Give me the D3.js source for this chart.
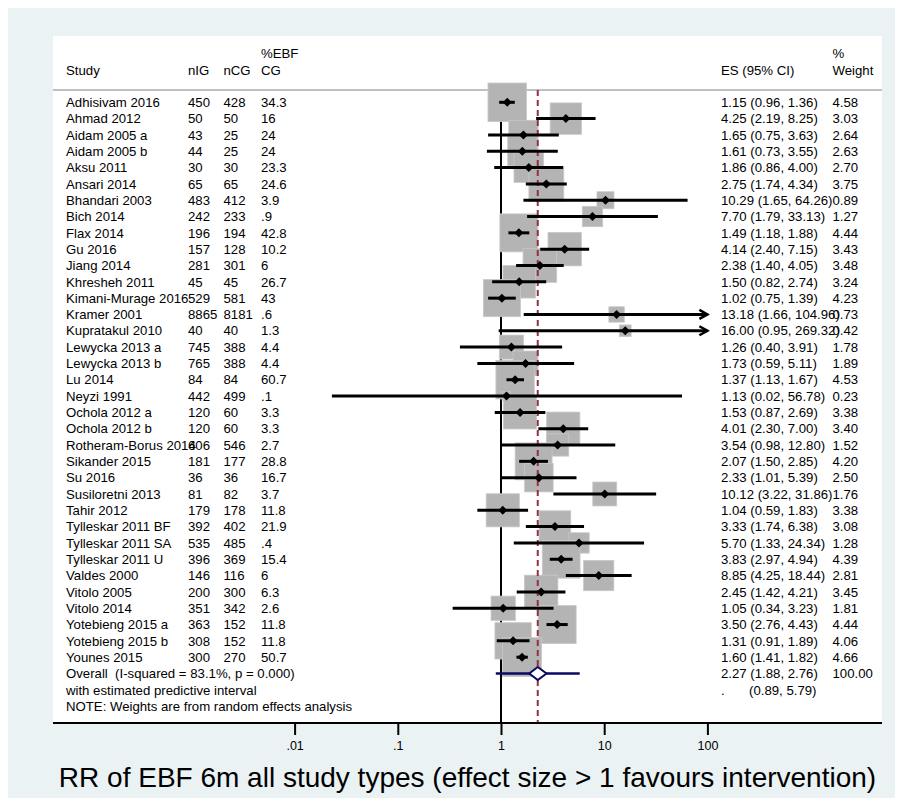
<!DOCTYPE html>
<html>
<head>
<meta charset="utf-8">
<script src="https://cdn.jsdelivr.net/npm/d3@7"></script>
<style>
  html, body { margin: 0; padding: 0; background: #ffffff; }
  svg { display: block; }
  text { font-family: "Liberation Sans", Arial, Helvetica, sans-serif; white-space: pre; }
</style>
</head>
<body>
<svg id="chart" width="903" height="802"></svg>
<script>
// ---------------- data ----------------
const studies = ["Adhisivam 2016","Ahmad 2012","Aidam 2005 a","Aidam 2005 b","Aksu 2011","Ansari 2014","Bhandari 2003","Bich 2014","Flax 2014","Gu 2016","Jiang 2014","Khresheh 2011","Kimani-Murage 2016","Kramer 2001","Kupratakul 2010","Lewycka 2013 a","Lewycka 2013 b","Lu 2014","Neyzi 1991","Ochola 2012 a","Ochola 2012 b","Rotheram-Borus 2014","Sikander 2015","Su 2016","Susiloretni 2013","Tahir 2012","Tylleskar 2011 BF","Tylleskar 2011 SA","Tylleskar 2011 U","Valdes 2000","Vitolo 2005","Vitolo 2014","Yotebieng 2015 a","Yotebieng 2015 b","Younes 2015"];
const nIG = ["450","50","43","44","30","65","483","242","196","157","281","45","529","8865","40","745","765","84","442","120","120","606","181","36","81","179","392","535","396","146","200","351","363","308","300"];
const nCG = ["428","50","25","25","30","65","412","233","194","128","301","45","581","8181","40","388","388","84","499","60","60","546","177","36","82","178","402","485","369","116","300","342","152","152","270"];
const ebfCG = ["34.3","16","24","24","23.3","24.6","3.9",".9","42.8","10.2","6","26.7","43",".6","1.3","4.4","4.4","60.7",".1","3.3","3.3","2.7","28.8","16.7","3.7","11.8","21.9",".4","15.4","6","6.3","2.6","11.8","11.8","50.7"];
const es  = [1.15,4.25,1.65,1.61,1.86,2.75,10.29,7.70,1.49,4.14,2.38,1.50,1.02,13.18,16.00,1.26,1.73,1.37,1.13,1.53,4.01,3.54,2.07,2.33,10.12,1.04,3.33,5.70,3.83,8.85,2.45,1.05,3.50,1.31,1.60];
const ciLow = [0.96,2.19,0.75,0.73,0.86,1.74,1.65,1.79,1.18,2.40,1.40,0.82,0.75,1.66,0.95,0.40,0.59,1.13,0.023,0.87,2.30,0.98,1.50,1.01,3.22,0.59,1.74,1.33,2.97,4.25,1.42,0.34,2.76,0.91,1.41];
const ciHigh = [1.36,8.25,3.63,3.55,4.00,4.34,64.26,33.13,1.88,7.15,4.05,2.74,1.39,104.96,269.32,3.91,5.11,1.67,56.78,2.69,7.00,12.80,2.85,5.39,31.86,1.83,6.38,24.34,4.94,18.44,4.21,3.23,4.43,1.89,1.82];
const weight = [4.58,3.03,2.64,2.63,2.70,3.75,0.89,1.27,4.44,3.43,3.48,3.24,4.23,0.73,0.42,1.78,1.89,4.53,0.23,3.38,3.40,1.52,4.20,2.50,1.76,3.38,3.08,1.28,4.39,2.81,3.45,1.81,4.44,4.06,4.66];
const overall = {es: 2.27, lo: 1.88, hi: 2.76, weight: "100.00", piLo: 0.89, piHi: 5.79};
const overallLabel = "Overall  (I-squared = 83.1%, p = 0.000)";
const predLabel = "with estimated predictive interval";
const noteLabel = "NOTE: Weights are from random effects analysis";
const tickValues = [0.01, 0.1, 1, 10, 100];
const tickLabels = [".01", ".1", "1", "10", "100"];
const xTitle = "RR of EBF 6m all study types (effect size > 1 favours intervention)";

// ---------------- layout ----------------
const svg = d3.select("#chart");
const panel = {x0: 53, x1: 882, y0: 36, y1: 723};

svg.append("rect").attr("x", 8).attr("y", 8).attr("width", 887).attr("height", 790).attr("fill", "#eaf2f3");
svg.append("rect").attr("x", panel.x0).attr("y", panel.y0).attr("width", panel.x1 - panel.x0).attr("height", panel.y1 - panel.y0).attr("fill", "#ffffff");

const x = d3.scaleLog().domain([0.01, 100]).range([294.6, 707.4]);
const nRows = 38;
const y = d3.scaleLinear().domain([0, nRows - 1]).range([102.3, 102.3 + 16.32 * (nRows - 1)]);
const side = d3.scaleSqrt().domain([0, 4.66]).range([0, 38.9]);

const fs = 13.2;
const col = {study: 66, nIG: 188, nCG: 223.5, ebf: 261, es: 721, w: 832.5};

// header
const hdr = svg.append("g").attr("font-size", fs).attr("fill", "#000");
hdr.append("text").attr("x", col.study).attr("y", 74.5).text("Study");
hdr.append("text").attr("x", col.nIG).attr("y", 74.5).text("nIG");
hdr.append("text").attr("x", col.nCG).attr("y", 74.5).text("nCG");
hdr.append("text").attr("x", col.ebf).attr("y", 58).text("%EBF");
hdr.append("text").attr("x", col.ebf).attr("y", 74.5).text("CG");
hdr.append("text").attr("x", col.es).attr("y", 74.5).text("ES (95% CI)");
hdr.append("text").attr("x", col.w).attr("y", 58).text("%");
hdr.append("text").attr("x", col.w).attr("y", 74.5).text("Weight");

// header rule
svg.append("line").attr("x1", panel.x0).attr("x2", panel.x1).attr("y1", 90).attr("y2", 90)
  .attr("stroke", "#c0c0c0").attr("stroke-width", 2);

// null line
svg.append("line").attr("x1", x(1)).attr("x2", x(1)).attr("y1", 90).attr("y2", panel.y1)
  .attr("stroke", "#000").attr("stroke-width", 2);

const idx = d3.range(studies.length);

// boxes
svg.append("g").selectAll("rect").data(idx).join("rect")
  .attr("x", i => x(es[i]) - side(weight[i]) / 2)
  .attr("y", i => y(i) - side(weight[i]) / 2)
  .attr("width", i => side(weight[i]))
  .attr("height", i => side(weight[i]))
  .attr("fill", "#b4b4b4")
  .attr("stroke", "#c8c8c8").attr("stroke-width", 0.8);

// overall dashed line
svg.append("line").attr("x1", x(overall.es)).attr("x2", x(overall.es)).attr("y1", 90).attr("y2", panel.y1)
  .attr("stroke", "#943040").attr("stroke-width", 2).attr("stroke-dasharray", "6,4");

// CI lines
const xMax = 100;
svg.append("g").selectAll("line").data(idx).join("line")
  .attr("x1", i => x(ciLow[i]))
  .attr("x2", i => x(Math.min(ciHigh[i], xMax)))
  .attr("y1", i => y(i)).attr("y2", i => y(i))
  .attr("stroke", "#000").attr("stroke-width", 3);

// arrows for clipped CIs
svg.append("g").selectAll("path").data(idx.filter(i => ciHigh[i] > xMax)).join("path")
  .attr("d", i => { const ax = x(xMax), ay = y(i); return `M${ax - 8},${ay - 4.5} L${ax},${ay} L${ax - 8},${ay + 4.5}`; })
  .attr("fill", "none").attr("stroke", "#000").attr("stroke-width", 2.5);

// point diamonds
svg.append("g").selectAll("path").data(idx).join("path")
  .attr("d", i => { const cx = x(es[i]), cy = y(i), r = 4.5; return `M${cx - r},${cy} L${cx},${cy - r} L${cx + r},${cy} L${cx},${cy + r} Z`; })
  .attr("fill", "#000");

// overall
const oy = y(35);
svg.append("line").attr("x1", x(overall.piLo)).attr("x2", x(overall.piHi)).attr("y1", oy).attr("y2", oy)
  .attr("stroke", "#0a0a64").attr("stroke-width", 2.5);
svg.append("path")
  .attr("d", `M${x(overall.lo)},${oy} L${x(overall.es)},${oy - 6.5} L${x(overall.hi)},${oy} L${x(overall.es)},${oy + 6.5} Z`)
  .attr("fill", "#ffffff").attr("stroke", "#0a0a64").attr("stroke-width", 2);

// table text
const tbl = svg.append("g").attr("font-size", fs).attr("fill", "#000");
const fmt = d3.format(".2f");
const dy = 4.7;
idx.forEach(i => {
  const ty = y(i) + dy;
  tbl.append("text").attr("x", col.study).attr("y", ty).text(studies[i]);
  tbl.append("text").attr("x", col.nIG).attr("y", ty).text(nIG[i]);
  tbl.append("text").attr("x", col.nCG).attr("y", ty).text(nCG[i]);
  tbl.append("text").attr("x", col.ebf).attr("y", ty).text(ebfCG[i]);
  tbl.append("text").attr("x", col.es).attr("y", ty).text(`${fmt(es[i])} (${fmt(ciLow[i])}, ${fmt(ciHigh[i])})`);
  tbl.append("text").attr("x", col.w).attr("y", ty).text(fmt(weight[i]));
});
tbl.append("text").attr("x", col.study).attr("y", y(35) + dy).text(overallLabel);
tbl.append("text").attr("x", col.es).attr("y", y(35) + dy).text(`${fmt(overall.es)} (${fmt(overall.lo)}, ${fmt(overall.hi)})`);
tbl.append("text").attr("x", col.w).attr("y", y(35) + dy).text(overall.weight);
tbl.append("text").attr("x", col.study).attr("y", y(36) + dy).text(predLabel);
tbl.append("text").attr("x", col.es).attr("y", y(36) + dy).text(".");
tbl.append("text").attr("x", 749).attr("y", y(36) + dy).text(`(${fmt(overall.piLo)}, ${fmt(overall.piHi)})`);
tbl.append("text").attr("x", col.study).attr("y", y(37) + dy).text(noteLabel);

// axis
svg.append("line").attr("x1", panel.x0).attr("x2", panel.x1).attr("y1", panel.y1).attr("y2", panel.y1)
  .attr("stroke", "#000").attr("stroke-width", 2);
const axis = d3.axisBottom(x).tickValues(tickValues)
  .tickFormat((d, i) => tickLabels[i]).tickSize(12).tickPadding(6);
const ag = svg.append("g").attr("transform", `translate(0,${panel.y1})`).call(axis);
ag.select(".domain").remove();
ag.selectAll(".tick line").attr("stroke", "#000").attr("stroke-width", 2);
ag.selectAll(".tick text").attr("font-size", 12.5).attr("fill", "#000")
  .attr("font-family", "'Liberation Sans', Arial, sans-serif");

svg.append("text").attr("x", (panel.x0 + panel.x1) / 2).attr("y", 787)
  .attr("text-anchor", "middle").attr("font-size", 28).attr("fill", "#000").text(xTitle);
</script>
</body>
</html>
